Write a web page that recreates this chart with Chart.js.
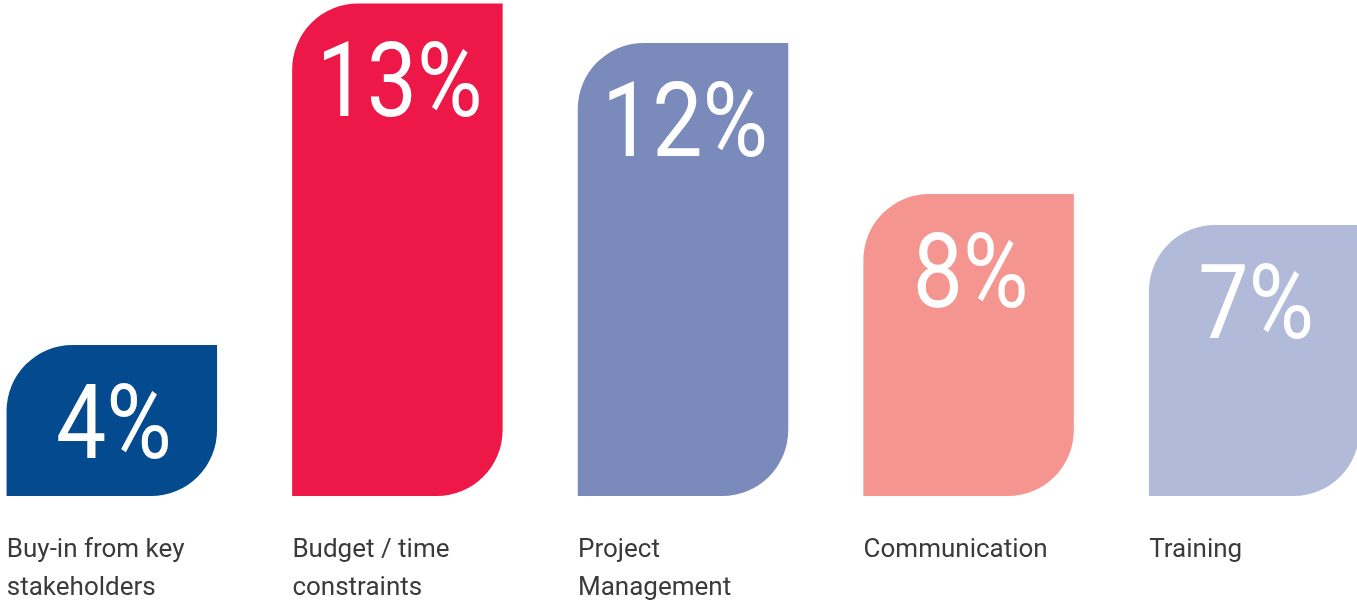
<!DOCTYPE html>
<html lang="en">
<head>
    <meta charset="UTF-8">
    <title>Challenges</title>
    <style>
        html, body {
            margin: 0;
            height: 100%;
            background: #ffffff;
            overflow: hidden;
        }
        #wrap {
            position: absolute;
            left: -31px;
            top: 0;
        }
    </style>
</head>
<body>
<div id="wrap">
    <canvas id="barChart" width="1428" height="604"></canvas>
</div>

<script src="https://cdn.jsdelivr.net/npm/chart.js"></script>
<script>
    // Chart data
    const categories = [
        ['Buy-in from key', 'stakeholders'],
        ['Budget / time', 'constraints'],
        ['Project', 'Management'],
        ['Communication'],
        ['Training']
    ];
    const values = [4, 13.05, 12, 8, 7.18];
    const valueLabels = ['4%', '13%', '12%', '8%', '7%'];
    const barColors = ['#034a8f', '#ee1848', '#7a8bbb', '#f4968f', '#b1bad9'];

    const fontFamily = "Roboto, 'DejaVu Sans Condensed', sans-serif";

    // big white percentages inside the bars (squeezed a bit to look condensed)
    const valueLabelPlugin = {
        id: 'valueLabels',
        afterDatasetsDraw(chart) {
            const ctx = chart.ctx;
            const meta = chart.getDatasetMeta(0);
            ctx.save();
            ctx.fillStyle = '#ffffff';
            ctx.font = '400 104px ' + fontFamily;
            ctx.textAlign = 'center';
            ctx.textBaseline = 'alphabetic';
            meta.data.forEach((bar, i) => {
                ctx.save();
                ctx.translate(bar.x + 2, bar.y + 113);
                ctx.scale(0.86, 1);
                ctx.fillText(valueLabels[i], 0, 0);
                ctx.restore();
            });
            ctx.restore();
        }
    };

    const barCtx = document.getElementById('barChart').getContext('2d');
    const barChart = new Chart(barCtx, {
        type: 'bar',
        data: {
            labels: categories,
            datasets: [{
                data: values,
                backgroundColor: barColors,
                borderWidth: 0,
                borderSkipped: false,
                borderRadius: { topLeft: 66, topRight: 0, bottomLeft: 0, bottomRight: 66 },
                barPercentage: 0.737,
                categoryPercentage: 1
            }]
        },
        options: {
            responsive: false,
            animation: false,
            layout: { padding: 0 },
            plugins: {
                legend: { display: false },
                tooltip: { enabled: false }
            },
            scales: {
                x: {
                    border: { display: false },
                    grid: { display: false, drawTicks: false },
                    ticks: {
                        align: 'start',
                        labelOffset: -105,
                        padding: 35,
                        maxRotation: 0,
                        autoSkip: false,
                        color: '#3a3a3a',
                        font: { family: fontFamily, size: 26, lineHeight: 1.47 }
                    },
                    afterFit(scale) {
                        scale.height = 108;
                    }
                },
                y: {
                    display: false,
                    min: 0,
                    max: 13.14
                }
            }
        },
        plugins: [valueLabelPlugin]
    });
</script>
</body>
</html>
